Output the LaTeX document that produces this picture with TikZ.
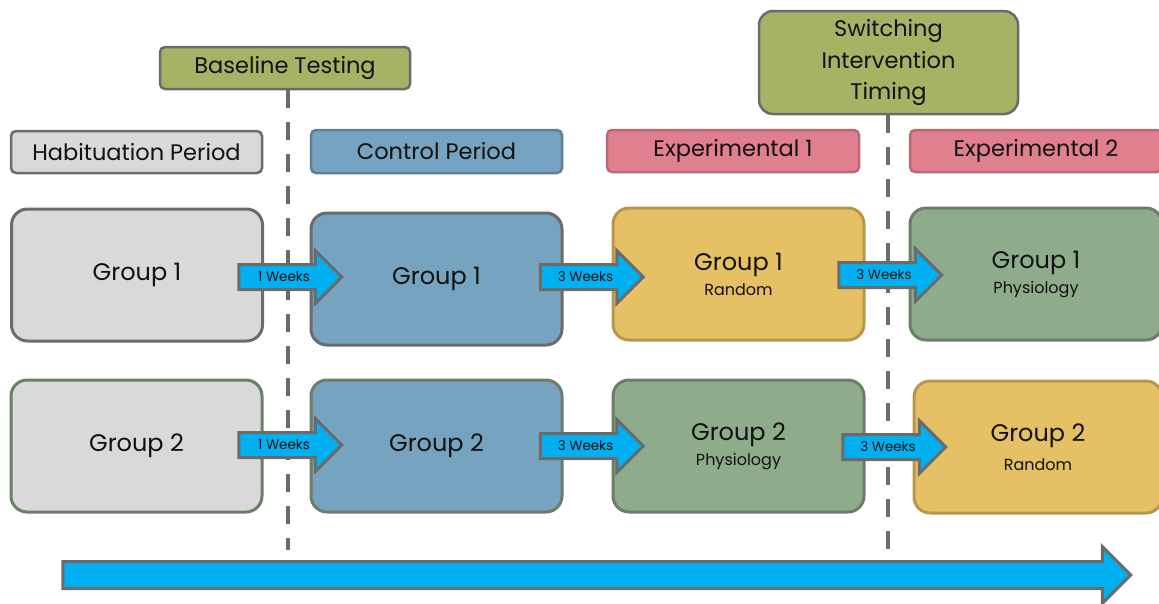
\documentclass[tikz,border=0pt]{standalone}
\usepackage{fontspec}
\setmainfont{Poppins}
\usetikzlibrary{shapes.arrows}
\definecolor{edgegrey}{HTML}{6B6B6B}
\definecolor{olive}{HTML}{A4B464}
\definecolor{lgrey}{HTML}{D9D9D9}
\definecolor{blueF}{HTML}{76A3BF}
\definecolor{blueE}{HTML}{5E7F95}
\definecolor{pinkF}{HTML}{E07F8E}
\definecolor{pinkE}{HTML}{B86A74}
\definecolor{yelF}{HTML}{E5C064}
\definecolor{yelE}{HTML}{B8964C}
\definecolor{grnF}{HTML}{8EAB8C}
\definecolor{grnE}{HTML}{6A7E68}
\definecolor{cyanA}{HTML}{00B0F0}
\definecolor{txt}{HTML}{111111}
\newcommand\subfnt{\fontsize{16}{20}\selectfont}
\begin{document}
\begin{tikzpicture}[x=1pt,y=-1pt,
  hdr/.style={draw=edgegrey, line width=2.5pt, rounded corners=5pt, minimum height=42pt, inner sep=0pt, text=txt, align=center, font=\fontsize{22.5}{31.5}\selectfont},
  grp/.style={line width=3pt, rounded corners=16pt, minimum width=251pt, minimum height=132pt, inner sep=0pt, text=txt, align=center, font=\fontsize{24}{27}\selectfont},
  wk/.style={single arrow, draw=edgegrey, fill=cyanA, line width=3pt, minimum height=103pt, minimum width=52pt, single arrow head extend=14pt, inner xsep=1pt, inner ysep=0pt, text height=15pt, text depth=7pt, text=txt, font=\fontsize{13.5}{14}\selectfont},
  dashline/.style={draw=edgegrey, line width=4pt, dash pattern=on 18pt off 14pt}
]
\useasboundingbox (0,0) rectangle (1159,603);
% timing lines
\node[hdr, fill=olive, minimum width=250pt] (base) at (285,68) {Baseline Testing};
\node[hdr, fill=olive, minimum width=259pt, minimum height=103pt, rounded corners=14pt] (switch) at (888.5,62.5) {Switching\\Intervention\\Timing};
\coordinate (d1) at (288,550);
\coordinate (d2) at (888,550);
\draw[dashline] (d1 |- base.south) -- (d1);
\draw[dashline] (d2 |- switch.south) -- (d2);
% period headers
\node[hdr, fill=lgrey, minimum width=251pt] (hab) at (136.5,152) {Habituation Period};
\node[hdr, fill=blueF, draw=blueE, minimum width=251pt, minimum height=43pt] (ctl) at (436.5,151.5) {Control Period};
\node[hdr, fill=pinkF, draw=pinkE, minimum width=252pt] (ex1) at (733,151) {Experimental 1};
\node[hdr, fill=pinkF, draw=pinkE, minimum width=252pt] (ex2) at (1036,151) {Experimental 2};
% group 1 row
\node[grp, fill=lgrey, draw=edgegrey] (h1) at (137,275) {Group 1};
\node[grp, fill=blueF, draw=edgegrey] (c1) at (436.5,279) {Group 1};
\node[grp, fill=yelF, draw=yelE] (e1a) at (738.5,274) {Group 1\\[-2pt]{\subfnt Random}};
\node[grp, fill=grnF, draw=grnE, minimum width=252pt] (e2a) at (1036,274) {Group 1\\[-2pt]{\subfnt Physiology}};
% group 2 row
\node[grp, fill=lgrey, draw=grnE] (h2) at (136.5,446) {Group 2};
\node[grp, fill=blueF, draw=grnE] (c2) at (436.5,446) {Group 2};
\node[grp, fill=grnF, draw=grnE] (e1b) at (738.5,446) {Group 2\\[-2pt]{\subfnt Physiology}};
\node[grp, fill=yelF, draw=yelE, minimum width=248pt] (e2b) at (1038,447) {Group 2\\[2pt]{\subfnt Random}};
% week arrows
\node[wk] (a1) at (284,277) {1 Weeks};
\node[wk] (a2) at (585.5,277) {3 Weeks};
\node[wk] (a3) at (884,275) {3 Weeks};
\node[wk] (b1) at (284,445) {1 Weeks};
\node[wk] (b2) at (585.5,446) {3 Weeks};
\node[wk] (b3) at (888,447) {3 Weeks};
% time arrow
\node[single arrow, draw=edgegrey, fill=cyanA, line width=3pt, minimum height=1068pt, minimum width=54pt, single arrow head extend=15pt, inner sep=0pt, text height=12pt, text depth=12pt] (time) at (590,575) {};
\end{tikzpicture}
\end{document}
